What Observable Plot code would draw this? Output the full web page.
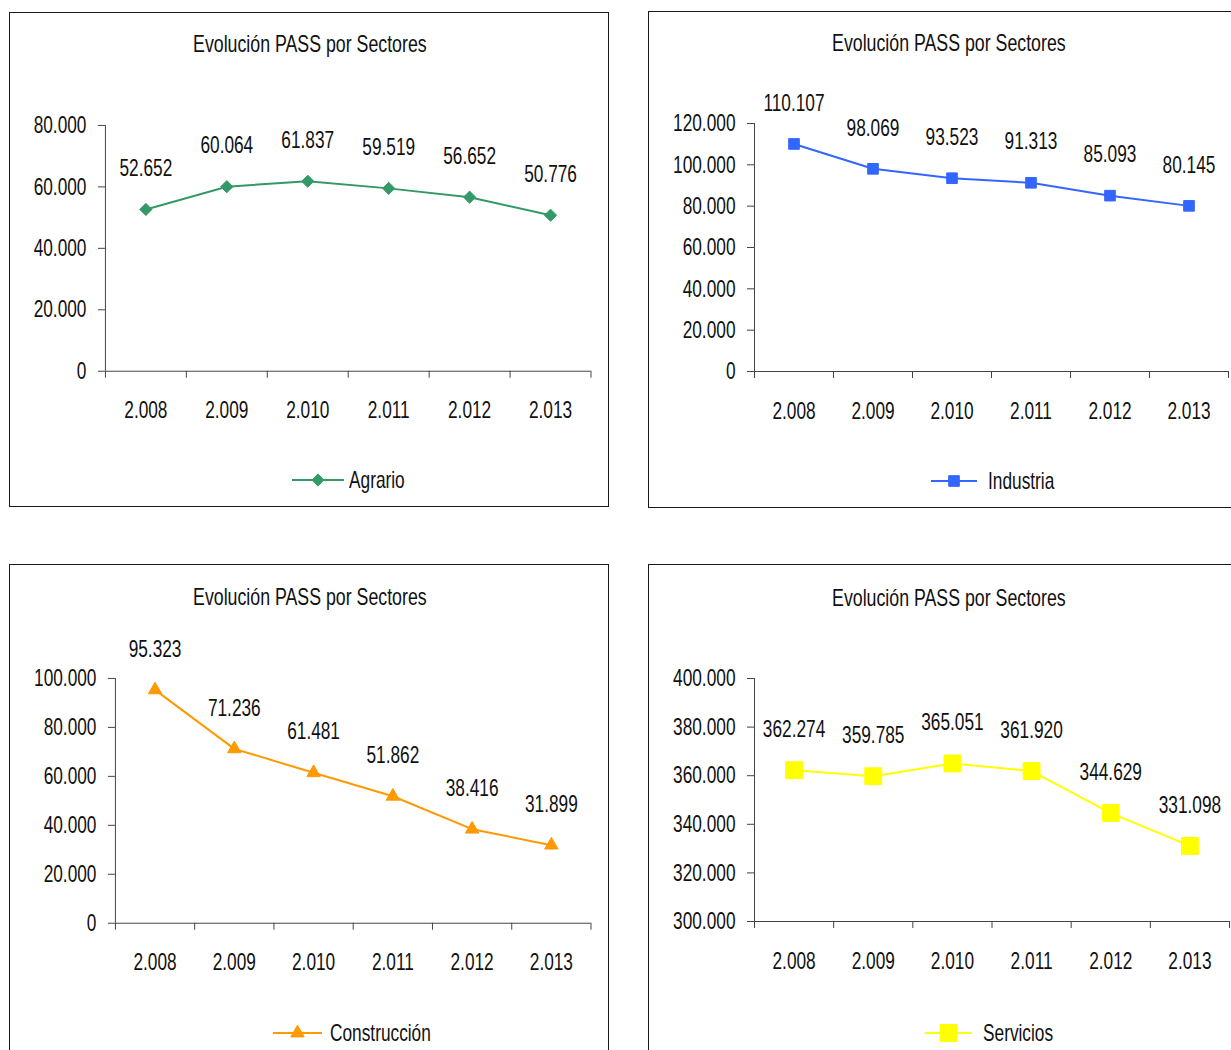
<!DOCTYPE html>
<html>
<head>
<meta charset="utf-8">
<script src="https://cdn.jsdelivr.net/npm/d3@7"></script>
<script src="https://cdn.jsdelivr.net/npm/@observablehq/plot@0.6"></script>
<style>
  html, body { margin: 0; padding: 0; background: #fff; }
  body { width: 1231px; height: 1050px; position: relative; overflow: hidden;
         font-family: "Liberation Sans", Arial, sans-serif; color: #111; }
  .panel { position: absolute; border: 1.5px solid #1a1a1a; box-sizing: border-box; background: #fff; }
  .panel.cutright { border-right: none; }
  .title { position: absolute; left: 0; text-align: center; font-size: 24px; line-height: 26px; white-space: nowrap; }
  .title span { display: inline-block; transform: scaleX(0.74); transform-origin: 50% 50%; }
  .legend { position: absolute; display: flex; align-items: center; font-size: 24px; line-height: 26px; white-space: nowrap; }
  .legend span { display: inline-block; transform: scaleX(0.72); transform-origin: 0 50%; }
  .legend svg { display: block; }
  .plotwrap { position: absolute; }
</style>
</head>
<body>
<script>
// ---- data ----
const years = [2008, 2009, 2010, 2011, 2012, 2013];
const agrario = [52652, 60064, 61837, 59519, 56652, 50776];
const industria = [110107, 98069, 93523, 91313, 85093, 80145];
const construccion = [95323, 71236, 61481, 51862, 38416, 31899];
const servicios = [362274, 359785, 365051, 361920, 344629, 331098];
const ticksAgrario = [0, 20000, 40000, 60000, 80000];
const ticksIndustria = [0, 20000, 40000, 60000, 80000, 100000, 120000];
const ticksConstruccion = [0, 20000, 40000, 60000, 80000, 100000];
const ticksServicios = [300000, 320000, 340000, 360000, 380000, 400000];
const titleText = "Evolución PASS por Sectores";

const loc = d3.formatLocale({decimal: ",", thousands: ".", grouping: [3], currency: ["", "€"]});
const fmt = loc.format(",d");
const FONT = '"Liberation Sans", Arial, sans-serif';
const SQUEEZE = 0.72;

function symbolFor(name) {
  return {diamond2: d3.symbolDiamond2, square: d3.symbolSquare, triangle: d3.symbolTriangle}[name];
}

// condense text horizontally (narrow typeface look) around each text's anchor point
function condense(svg) {
  svg.querySelectorAll("text").forEach(t => {
    let x = parseFloat(t.getAttribute("x"));
    if (!isFinite(x) || /em/.test(t.getAttribute("x") || "")) x = 0;
    const tr = t.getAttribute("transform") || "";
    t.setAttribute("transform", `${tr} translate(${x},0) scale(${SQUEEZE},1) translate(${-x},0)`.trim());
  });
}

function panel(cfg) {
  const p = document.createElement("div");
  p.className = "panel" + (cfg.cutRight ? " cutright" : "");
  Object.assign(p.style, {left: cfg.left + "px", top: cfg.top + "px", width: cfg.width + "px", height: cfg.height + "px"});
  document.body.appendChild(p);

  const t = document.createElement("div");
  t.className = "title";
  const ts = document.createElement("span");
  ts.textContent = titleText;
  t.appendChild(ts);
  t.style.top = (cfg.titleY - cfg.top - 13 - 1.5) + "px";
  t.style.width = cfg.titleW + "px";
  p.appendChild(t);

  const mTop = 62, mBottom = 60;
  const svgTop = cfg.yTop - mTop;
  const data = years.map((y, i) => ({i, year: y, v: cfg.values[i]}));
  const edges = d3.range(years.length + 1).map(k => k - 0.5);
  const plot = Plot.plot({
    width: cfg.width,
    height: (cfg.y0 + mBottom) - svgTop,
    marginLeft: cfg.axisX - cfg.left,
    marginRight: cfg.left + cfg.width - cfg.xRight,
    marginTop: mTop,
    marginBottom: mBottom,
    x: {domain: [-0.5, years.length - 0.5]},
    y: {domain: cfg.domain},
    style: {fontFamily: FONT, fontSize: "24px", color: "#111", background: "transparent", overflow: "visible"},
    marks: [
      Plot.axisY({ticks: cfg.ticks, tickFormat: fmt, tickSize: 7, tickPadding: 12, label: null, stroke: "#444"}),
      Plot.axisX({ticks: edges, tickFormat: () => "", tickSize: 7, label: null, stroke: "#444"}),
      Plot.axisX({ticks: years.map((_, i) => i), tickFormat: i => fmt(years[i]), tickSize: 0, tickPadding: 30, label: null}),
      Plot.ruleX([-0.5], {stroke: "#444"}),
      Plot.ruleY([cfg.domain[0]], {stroke: "#444"}),
      Plot.lineY(data, {x: "i", y: "v", stroke: cfg.color, strokeWidth: 2}),
      Plot.dot(data, {x: "i", y: "v", symbol: cfg.symbol, r: cfg.r, fill: cfg.color, stroke: cfg.color, strokeWidth: 1}),
      Plot.text(data, {x: "i", y: "v", text: d => fmt(d.v), dy: -41, fill: "#111"})
    ]
  });
  const w = document.createElement("div");
  w.className = "plotwrap";
  w.style.left = "-1.5px";
  w.style.top = (svgTop - cfg.top - 1.5) + "px";
  w.appendChild(plot);
  p.appendChild(w);
  condense(plot);

  // legend
  const lg = document.createElement("div");
  lg.className = "legend";
  lg.style.left = (cfg.legendX - cfg.left - 1.5) + "px";
  lg.style.top = (cfg.legendY - cfg.top - 13 - 1.5) + "px";
  lg.style.height = "26px";
  const sw = cfg.legendW;
  const sv = d3.create("svg").attr("width", sw).attr("height", 26);
  sv.append("line").attr("x1", 0).attr("x2", sw).attr("y1", 13).attr("y2", 13)
    .attr("stroke", cfg.color).attr("stroke-width", 2);
  sv.append("path").attr("transform", `translate(${sw / 2},13)`)
    .attr("d", d3.symbol(symbolFor(cfg.symbol), Math.PI * cfg.r * cfg.r)())
    .attr("fill", cfg.color).attr("stroke", cfg.color);
  lg.appendChild(sv.node());
  const tx = document.createElement("span");
  tx.textContent = cfg.name;
  tx.style.marginLeft = cfg.legendGap + "px";
  lg.appendChild(tx);
  p.appendChild(lg);
}

panel({left: 9, top: 12, width: 600, height: 495, axisX: 105, xRight: 591, yTop: 125, y0: 371,
  domain: [0, 80000], ticks: ticksAgrario, values: agrario, name: "Agrario", color: "#339966",
  symbol: "diamond2", r: 5.5, titleY: 44, titleW: 600, legendY: 480, legendX: 292, legendW: 52, legendGap: 5});
panel({left: 648, top: 11, width: 583, height: 497, axisX: 754, xRight: 1228, yTop: 123, y0: 371, cutRight: true,
  domain: [0, 120000], ticks: ticksIndustria, values: industria, name: "Industria", color: "#3366ff",
  symbol: "square", r: 6, titleY: 43, titleW: 600, legendY: 481, legendX: 931, legendW: 46, legendGap: 11});
panel({left: 9, top: 564, width: 600, height: 500, axisX: 115, xRight: 591, yTop: 678, y0: 923,
  domain: [0, 100000], ticks: ticksConstruccion, values: construccion, name: "Construcción", color: "#ff9900",
  symbol: "triangle", r: 5, titleY: 597, titleW: 600, legendY: 1033, legendX: 273, legendW: 49, legendGap: 8});
panel({left: 648, top: 564, width: 583, height: 500, axisX: 754, xRight: 1229, yTop: 678, y0: 921, cutRight: true,
  domain: [300000, 400000], ticks: ticksServicios, values: servicios, name: "Servicios", color: "#ffff00",
  symbol: "square", r: 9.5, titleY: 598, titleW: 600, legendY: 1033, legendX: 925, legendW: 47, legendGap: 11});
</script>
</body>
</html>
